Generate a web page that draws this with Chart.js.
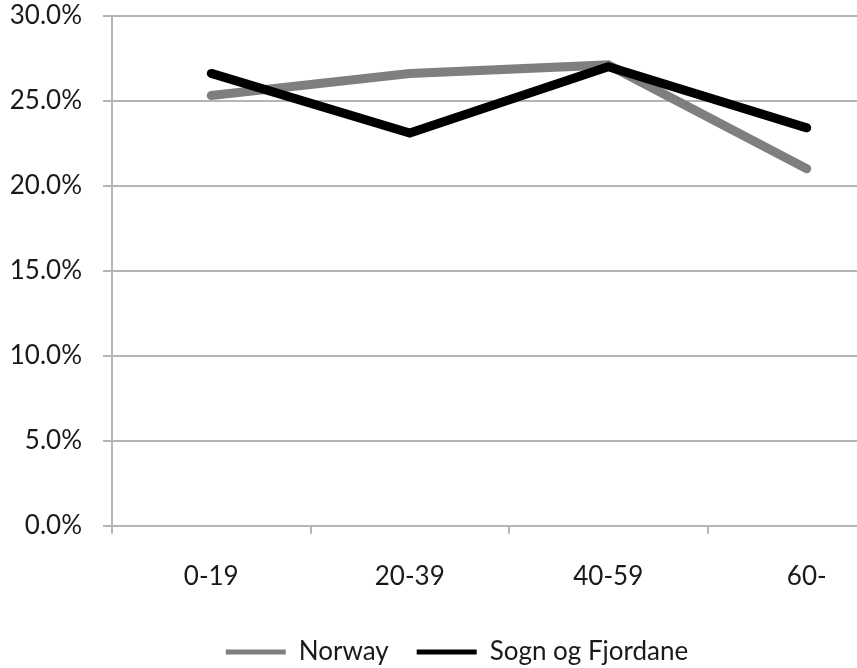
<!DOCTYPE html>
<html>
<head>
<meta charset="utf-8">
<script src="https://cdn.jsdelivr.net/npm/chart.js@4"></script>
<style>
    html, body { margin: 0; padding: 0; background: #fff; overflow: hidden; }
    #ageChart { display: block; margin-top: -21px; }
</style>
</head>
<body>
<canvas id="ageChart" width="920" height="696"></canvas>
<script>
const ageGroups = ['0-19', '20-39', '40-59', '60-'];
const norway = [25.3, 26.6, 27.1, 21.0];
const sognOgFjordane = [26.6, 23.1, 27.0, 23.4];
const yTicks = [0, 5, 10, 15, 20, 25, 30];

const gridColor = '#b4b4b4';
const textColor = '#1a1a1a';
const fontFamily = 'Lato, "Open Sans", sans-serif';

const ctx = document.getElementById('ageChart').getContext('2d');
const ageChart = new Chart(ctx, {
    type: 'line',
    data: {
        labels: ageGroups,
        datasets: [{
            label: 'Norway',
            data: norway,
            borderColor: '#7f7f7f',
            backgroundColor: '#7f7f7f',
            borderWidth: 9,
            borderCapStyle: 'round',
            pointRadius: 0,
            order: 1
        }, {
            label: 'Sogn og Fjordane',
            data: sognOgFjordane,
            borderColor: '#000000',
            backgroundColor: '#000000',
            borderWidth: 9,
            borderCapStyle: 'round',
            pointRadius: 0,
            order: 0   // black line sits on top
        }]
    },
    options: {
        responsive: false,
        animation: false,
        layout: { padding: { left: 8, right: 14, top: 0, bottom: 0 } },
        scales: {
            x: {
                offset: true,
                afterFit: scale => { scale.height -= 8; },
                grid: { offset: true, drawOnChartArea: false, tickLength: 8, color: gridColor, lineWidth: 2 },
                border: { color: gridColor, width: 2 },
                ticks: { color: textColor, font: { family: fontFamily, size: 26 }, padding: 27 }
            },
            y: {
                min: 0,
                max: 30,
                afterBuildTicks: scale => { scale.ticks = yTicks.map(v => ({ value: v })); },
                afterFit: scale => { scale.width = 104; },
                grid: { tickLength: 9, color: gridColor, lineWidth: 2 },
                border: { color: gridColor, width: 2 },
                ticks: {
                    color: textColor,
                    font: { family: fontFamily, size: 26 },
                    padding: 21,
                    callback: v => v.toFixed(1) + '%'
                }
            }
        },
        plugins: {
            tooltip: { enabled: false },
            legend: {
                position: 'bottom',
                labels: {
                    color: textColor,
                    font: { family: fontFamily, size: 26 },
                    usePointStyle: true,
                    pointStyle: 'line',
                    pointStyleWidth: 60,
                    boxHeight: 6,
                    padding: 28,
                    sort: (a, b) => a.datasetIndex - b.datasetIndex,
                    generateLabels: chart => {
                        const items = Chart.defaults.plugins.legend.labels.generateLabels(chart);
                        items.forEach(item => { item.lineWidth = 5; });
                        return items;
                    }
                }
            }
        }
    }
});
</script>
</body>
</html>
